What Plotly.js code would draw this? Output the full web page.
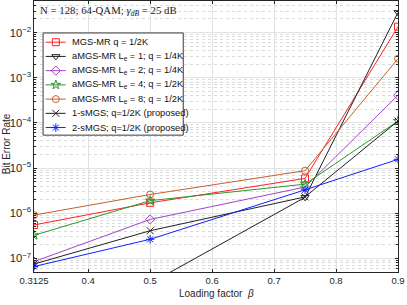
<!DOCTYPE html>
<html>
<head>
<meta charset="utf-8">
<script src="https://cdn.plot.ly/plotly-3.0.1.min.js"></script>
<style>html,body{margin:0;padding:0;background:#fff}#chart{width:407px;height:305px}</style>
</head>
<body>
<div id="chart"></div>
<script>
var beta = [0.3125, 0.5, 0.75, 0.9];
var seriesNames = [
  "MGS-MR q = 1/2K",
  "aMGS-MR L<sub>e</sub> = 1; q = 1/4K",
  "aMGS-MR L<sub>e</sub> = 2; q = 1/4K",
  "aMGS-MR L<sub>e</sub> = 4; q = 1/2K",
  "aMGS-MR L<sub>e</sub> = 8; q = 1/2K",
  "1-sMGS; q=1/2K (proposed)",
  "2-sMGS; q=1/2K (proposed)"
];
var berMGS   = [5.5e-7, 1.7e-6, 5.9e-6, 1.35e-2];
var berLe1   = [1.0e-8, 2.8e-8, 2.25e-6, 2.8e-2];
var berLe2   = [8.5e-8, 7.3e-7, 3.8e-6, 4.1e-4];
var berLe4   = [3.25e-7, 1.9e-6, 4.4e-6, 1.1e-4];
var berLe8   = [9.1e-7, 2.6e-6, 8.75e-6, 2.64e-3];
var ber1s    = [7.5e-8, 4.1e-7, 2.3e-6, 1.1e-4];
var ber2s    = [6.6e-8, 2.65e-7, 3.3e-6, 1.56e-5];
var xTicks = [0.3125, 0.4, 0.5, 0.6, 0.7, 0.8, 0.9];
var xTickText = ["0.3125", "0.4", "0.5", "0.6", "0.7", "0.8", "0.9"];

var allY = [berMGS, berLe1, berLe2, berLe4, berLe8, ber1s, ber2s];
var colors = ["#ff2020", "#202020", "#a045c8", "#2a9a2a", "#c4602c", "#202020", "#1020ff"];
var symbols = ["square-open", "triangle-down-open", "diamond-open", "star-open", "circle-open", "x-thin-open", "asterisk-open"];

var traces = allY.map(function(y, i) {
  return {
    x: beta, y: y, name: seriesNames[i], type: "scatter", mode: "lines+markers",
    showlegend: false, cliponaxis: true,
    line: {color: colors[i], width: 1},
    marker: {symbol: symbols[i], size: 7, color: colors[i], line: {color: colors[i], width: 1}}
  };
});

// Compact MATLAB-style legend drawn on an overlay axis with a fixed [0,1] frame
var lgBox = {x0: 0.025, x1: 0.41, y0: 0.505, y1: 0.882};
var lgRow0 = 0.848, lgRowStep = 0.0525;
var lgLineX = [0.032, 0.087], lgMarkX = 0.06, lgTextX = 0.098;
traces.push({
  x: [lgBox.x0, lgBox.x1, lgBox.x1, lgBox.x0, lgBox.x0],
  y: [lgBox.y0, lgBox.y0, lgBox.y1, lgBox.y1, lgBox.y0],
  xaxis: "x2", yaxis: "y2", mode: "lines", fill: "toself", fillcolor: "#ffffff",
  line: {color: "#3a3a3a", width: 1}, showlegend: false, hoverinfo: "skip"
});
var annotations = [];
seriesNames.forEach(function(nm, i) {
  var yy = lgRow0 - i * lgRowStep;
  traces.push({
    x: lgLineX, y: [yy, yy], xaxis: "x2", yaxis: "y2", mode: "lines",
    line: {color: colors[i], width: 1}, showlegend: false, hoverinfo: "skip"
  });
  traces.push({
    x: [lgMarkX], y: [yy], xaxis: "x2", yaxis: "y2", mode: "markers",
    marker: {symbol: symbols[i], size: 7, color: colors[i], line: {color: colors[i], width: 1}},
    showlegend: false, hoverinfo: "skip"
  });
  annotations.push({
    xref: "paper", yref: "paper", x: lgTextX, y: yy, xanchor: "left", yanchor: "middle",
    showarrow: false, text: nm, font: {size: 9.3, color: "#111"}
  });
});

annotations.push({
  xref: "paper", yref: "paper", x: 0.01, y: 0.995, xanchor: "left", yanchor: "top",
  showarrow: false,
  text: "N = 128; 64-QAM; <i>γ</i><sub><i>dB</i></sub> = 25 dB",
  font: {family: "Liberation Serif, Times New Roman, serif", size: 10.8, color: "#222"}
});
annotations.push({
  xref: "paper", yref: "paper", x: -0.077, y: 0.475, xanchor: "center", yanchor: "middle",
  textangle: -90, showarrow: false,
  text: "Bit Error Rate",
  font: {size: 10, color: "#262626"}
});
annotations.push({
  xref: "paper", yref: "paper", x: 0.5, y: -0.078, xanchor: "center", yanchor: "middle",
  showarrow: false,
  text: "Loading factor  <i>β</i>",
  font: {size: 10, color: "#262626"}
});

var layout = {
  width: 407, height: 305,
  margin: {l: 34, r: 9, t: 1, b: 33, autoexpand: false},
  paper_bgcolor: "#fff", plot_bgcolor: "#fff",
  font: {family: "Liberation Sans, Arial, sans-serif", size: 10, color: "#262626"},
  showlegend: false,
  xaxis: {
    range: [0.3125, 0.9], tickvals: xTicks, ticktext: xTickText, automargin: false,
    showgrid: true, gridcolor: "#e2e2e2", gridwidth: 1,
    ticks: "inside", ticklen: 3, tickcolor: "#262626", mirror: "ticks",
    showline: true, linecolor: "#262626", linewidth: 1, zeroline: false,
    tickfont: {size: 9.5}
  },
  yaxis: {
    type: "log", range: [Math.log10(5e-8), Math.log10(5e-2)], dtick: 1, automargin: false,
    exponentformat: "power", showexponent: "all",
    showgrid: true, gridcolor: "#e2e2e2", gridwidth: 1,
    ticks: "inside", ticklen: 3, tickcolor: "#262626", mirror: "ticks",
    showline: true, linecolor: "#262626", linewidth: 1, zeroline: false,
    minor: {showgrid: true, gridcolor: "#dadada", griddash: "dot", ticks: "inside", ticklen: 2, tickcolor: "#262626", dtick: "D1"},
    tickfont: {size: 9}
  },
  xaxis2: {overlaying: "x", anchor: "y2", range: [0, 1], visible: false, fixedrange: true},
  yaxis2: {overlaying: "y", anchor: "x2", range: [0, 1], visible: false, fixedrange: true},
  annotations: annotations
};
Plotly.newPlot("chart", traces, layout, {displayModeBar: false, staticPlot: true});
</script>
</body>
</html>
